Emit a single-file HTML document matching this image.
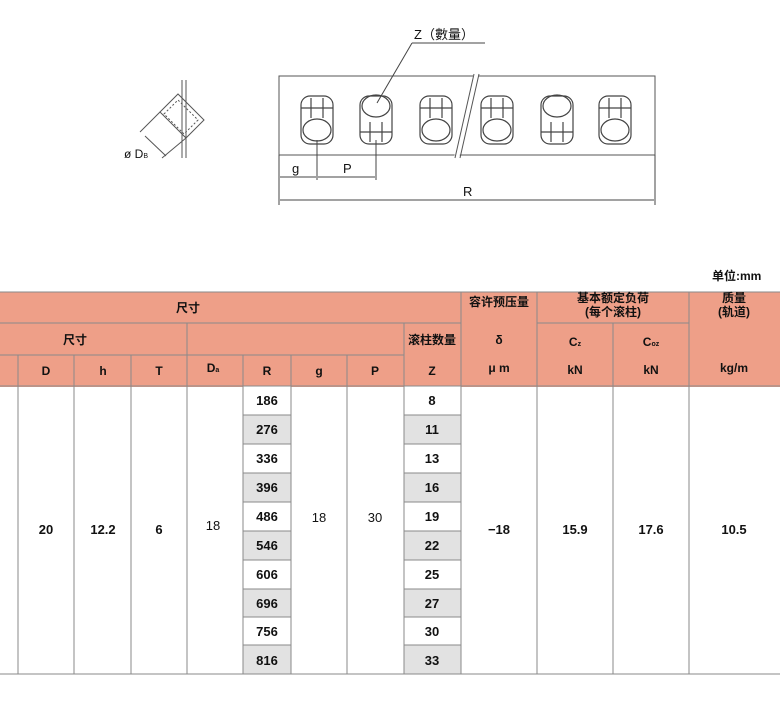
<!DOCTYPE html>
<html><head><meta charset="utf-8"><style>
html,body{margin:0;padding:0;background:#fff;}
svg{display:block;}
text{font-family:"Liberation Sans","Noto Sans CJK SC",sans-serif;fill:#111;}
.h{font-weight:bold;font-size:12px;}
.d{font-size:13px;}
.b{font-weight:bold;}
</style></head><body>
<svg width="780" height="723" viewBox="0 0 780 723" xmlns="http://www.w3.org/2000/svg">
<g stroke="#555" fill="none" stroke-width="1">
<line x1="182" y1="80" x2="182" y2="158"/><line x1="186" y1="80" x2="186" y2="158"/>
<polygon points="160,112 178,94 204,120 186,138" />
<polygon points="164,114 178,100 198,120 184,134" stroke-dasharray="2,2"/>
<line x1="140" y1="132" x2="160" y2="112"/><line x1="162" y1="158" x2="186" y2="138"/>
<line x1="145" y1="136" x2="166" y2="156"/>
</g>
<text x="124" y="158" style="font-size:12px">ø D<tspan style="font-size:7px">B</tspan></text>
<rect x="279" y="76" width="376" height="79" fill="none" stroke="#555"/>
<line x1="456" y1="160" x2="476" y2="74" stroke="#fff" stroke-width="5"/>
<line x1="455" y1="158" x2="474" y2="74" stroke="#555"/>
<line x1="460" y1="158" x2="479" y2="74" stroke="#555"/>
<g stroke="#444" fill="none" stroke-width="1.2">
<g transform="translate(317,0)"><rect x="-16" y="96" width="32" height="48" rx="9"/><ellipse cx="0" cy="130" rx="14" ry="11"/><line x1="-6" y1="98" x2="-6" y2="118"/><line x1="6" y1="98" x2="6" y2="118"/><line x1="-16" y1="108" x2="16" y2="108"/></g>
<g transform="translate(376,0)"><rect x="-16" y="96" width="32" height="48" rx="9"/><ellipse cx="0" cy="106" rx="14" ry="11"/><line x1="-6" y1="122" x2="-6" y2="142"/><line x1="6" y1="122" x2="6" y2="142"/><line x1="-16" y1="132" x2="16" y2="132"/></g>
<g transform="translate(436,0)"><rect x="-16" y="96" width="32" height="48" rx="9"/><ellipse cx="0" cy="130" rx="14" ry="11"/><line x1="-6" y1="98" x2="-6" y2="118"/><line x1="6" y1="98" x2="6" y2="118"/><line x1="-16" y1="108" x2="16" y2="108"/></g>
<g transform="translate(497,0)"><rect x="-16" y="96" width="32" height="48" rx="9"/><ellipse cx="0" cy="130" rx="14" ry="11"/><line x1="-6" y1="98" x2="-6" y2="118"/><line x1="6" y1="98" x2="6" y2="118"/><line x1="-16" y1="108" x2="16" y2="108"/></g>
<g transform="translate(557,0)"><rect x="-16" y="96" width="32" height="48" rx="9"/><ellipse cx="0" cy="106" rx="14" ry="11"/><line x1="-6" y1="122" x2="-6" y2="142"/><line x1="6" y1="122" x2="6" y2="142"/><line x1="-16" y1="132" x2="16" y2="132"/></g>
<g transform="translate(615,0)"><rect x="-16" y="96" width="32" height="48" rx="9"/><ellipse cx="0" cy="130" rx="14" ry="11"/><line x1="-6" y1="98" x2="-6" y2="118"/><line x1="6" y1="98" x2="6" y2="118"/><line x1="-16" y1="108" x2="16" y2="108"/></g>
</g>
<g stroke="#444" stroke-width="1">
<line x1="317" y1="140" x2="317" y2="180"/><line x1="376" y1="140" x2="376" y2="180"/>
<line x1="279" y1="155" x2="279" y2="205"/><line x1="655" y1="155" x2="655" y2="205"/>
<line x1="280" y1="177" x2="316" y2="177"/><line x1="318" y1="177" x2="375" y2="177"/>
<line x1="280" y1="200" x2="654" y2="200"/>
<line x1="377" y1="103" x2="412" y2="43"/><line x1="412" y1="43" x2="485" y2="43"/>
</g>
<text x="292" y="173" class="d">g</text><text x="343" y="173" class="d">P</text>
<text x="463" y="196" class="d">R</text>
<text x="414" y="39" style="font-size:13px">Z（數量）</text>
<text x="712" y="280" class="h">单位:mm</text>
<rect x="0" y="292" width="780" height="95" fill="#EE9F88"/>
<g stroke="#8a8a8a" stroke-width="1" fill="none">
<line x1="0" y1="292" x2="780" y2="292"/>
<line x1="0" y1="323" x2="461" y2="323"/><line x1="537" y1="323" x2="689" y2="323"/>
<line x1="0" y1="355" x2="404" y2="355"/>
<line x1="0" y1="386" x2="780" y2="386"/>
<line x1="461" y1="292" x2="461" y2="674"/><line x1="537" y1="292" x2="537" y2="674"/>
<line x1="689" y1="292" x2="689" y2="674"/><line x1="613" y1="323" x2="613" y2="674"/>
<line x1="404" y1="323" x2="404" y2="674"/><line x1="187" y1="323" x2="187" y2="674"/>
<line x1="18" y1="355" x2="18" y2="674"/><line x1="74" y1="355" x2="74" y2="674"/>
<line x1="131" y1="355" x2="131" y2="674"/><line x1="243" y1="355" x2="243" y2="674"/>
<line x1="291" y1="355" x2="291" y2="674"/><line x1="347" y1="355" x2="347" y2="674"/>
<line x1="0" y1="674" x2="780" y2="674"/>
</g>
<g text-anchor="middle" class="h">
<text x="188" y="312" class="h">尺寸</text>
<text x="75" y="344" class="h">尺寸</text>
<text x="432" y="344" class="h">滚柱数量</text>
<text x="499" y="306" class="h">容许预压量</text>
<text x="499" y="344" class="h">δ</text>
<text x="613" y="302" class="h">基本额定负荷</text>
<text x="613" y="316" class="h">(每个滚柱)</text>
<text x="734" y="302" class="h">质量</text>
<text x="734" y="316" class="h">(轨道)</text>
<text x="575" y="346" class="h">C<tspan style="font-size:7px">z</tspan></text>
<text x="651" y="346" class="h">C<tspan style="font-size:7px">oz</tspan></text>
<text x="46" y="375" class="h">D</text><text x="103" y="375" class="h">h</text><text x="159" y="375" class="h">T</text>
<text x="213" y="372" class="h">D<tspan style="font-size:7px">a</tspan></text>
<text x="267" y="375" class="h">R</text><text x="319" y="375" class="h">g</text><text x="375" y="375" class="h">P</text>
<text x="432" y="375" class="h">Z</text><text x="499" y="372" class="h">μ m</text>
<text x="575" y="374" class="h">kN</text><text x="651" y="374" class="h">kN</text><text x="734" y="372" class="h">kg/m</text>
</g>
<g stroke="#8a8a8a" stroke-width="1">
<rect x="243" y="386" width="48" height="29" fill="#fff"/><rect x="243" y="415" width="48" height="29" fill="#e2e2e2"/>
<rect x="243" y="444" width="48" height="29" fill="#fff"/><rect x="243" y="473" width="48" height="29" fill="#e2e2e2"/>
<rect x="243" y="502" width="48" height="29" fill="#fff"/><rect x="243" y="531" width="48" height="29" fill="#e2e2e2"/>
<rect x="243" y="560" width="48" height="29" fill="#fff"/><rect x="243" y="589" width="48" height="28" fill="#e2e2e2"/>
<rect x="243" y="617" width="48" height="28" fill="#fff"/><rect x="243" y="645" width="48" height="29" fill="#e2e2e2"/>
<rect x="404" y="386" width="57" height="29" fill="#fff"/><rect x="404" y="415" width="57" height="29" fill="#e2e2e2"/>
<rect x="404" y="444" width="57" height="29" fill="#fff"/><rect x="404" y="473" width="57" height="29" fill="#e2e2e2"/>
<rect x="404" y="502" width="57" height="29" fill="#fff"/><rect x="404" y="531" width="57" height="29" fill="#e2e2e2"/>
<rect x="404" y="560" width="57" height="29" fill="#fff"/><rect x="404" y="589" width="57" height="28" fill="#e2e2e2"/>
<rect x="404" y="617" width="57" height="28" fill="#fff"/><rect x="404" y="645" width="57" height="29" fill="#e2e2e2"/>
</g>
<g text-anchor="middle" class="d">
<g class="b">
<text x="267" y="405">186</text><text x="267" y="434">276</text><text x="267" y="463">336</text><text x="267" y="492">396</text><text x="267" y="521">486</text><text x="267" y="550">546</text><text x="267" y="579">606</text><text x="267" y="608">696</text><text x="267" y="636">756</text><text x="267" y="665">816</text>
<text x="432" y="405">8</text><text x="432" y="434">11</text><text x="432" y="463">13</text><text x="432" y="492">16</text><text x="432" y="521">19</text><text x="432" y="550">22</text><text x="432" y="579">25</text><text x="432" y="608">27</text><text x="432" y="636">30</text><text x="432" y="665">33</text>
<text x="46" y="534">20</text><text x="103" y="534">12.2</text><text x="159" y="534">6</text>
<text x="499" y="534">−18</text>
<text x="575" y="534">15.9</text><text x="651" y="534">17.6</text><text x="734" y="534">10.5</text>
</g>
<text x="213" y="530">18</text>
<text x="319" y="522">18</text><text x="375" y="522">30</text>
</g>
</svg>
</body></html>
